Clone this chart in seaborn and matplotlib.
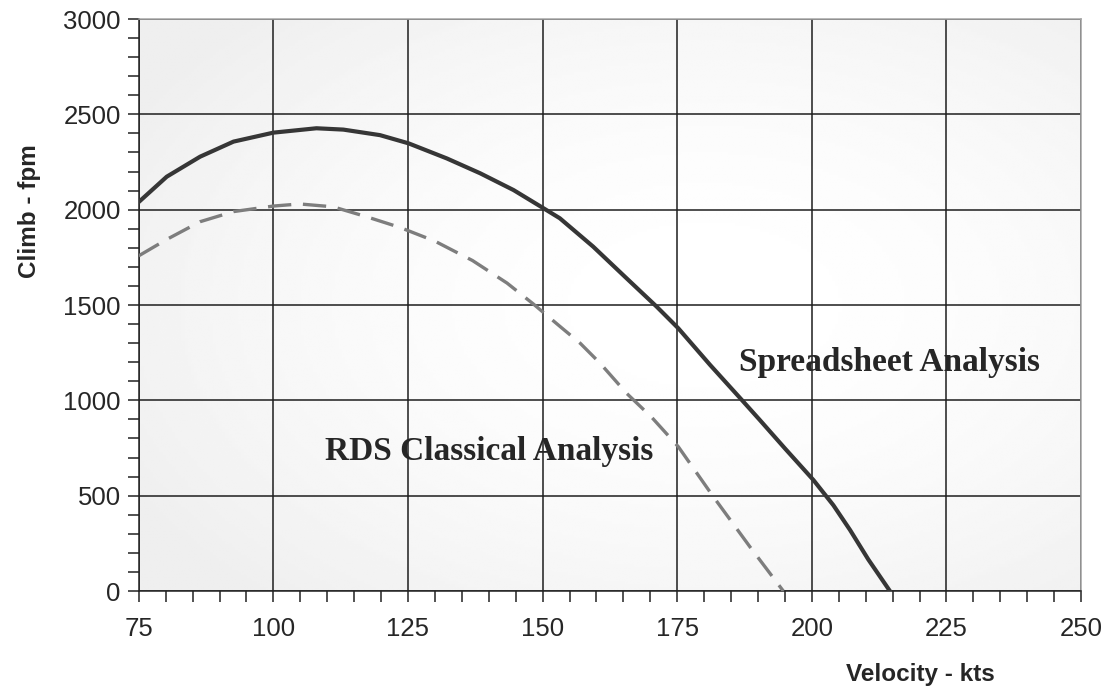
import numpy as np
import pandas as pd
import matplotlib
matplotlib.use('Agg')
import matplotlib.pyplot as plt
from matplotlib.ticker import MultipleLocator
import seaborn as sns

# values
spread_kts = [75, 80.2, 86.4, 92.6, 100, 108, 113, 119.8, 125.1, 132.2, 138.4, 144.6, 150.2, 153.2,
              159.4, 165.6, 171.2, 175.2, 181.1, 187, 190.4, 195, 200.3, 204, 207.1, 210.5, 214.5]
spread_fpm = [2040, 2173, 2278, 2357, 2404, 2427, 2420, 2391, 2348, 2269, 2191, 2103, 2007, 1955,
              1806, 1640, 1491, 1378, 1186, 1002, 895, 748, 582, 450, 320, 165, 0]

rds_kts = [75, 80.2, 86.4, 92.6, 100, 104.9, 111.1, 117.3, 123.5, 130, 137, 143.4, 148.3, 153.3,
           157, 160.7, 165.6, 170.3, 175.2, 181.7, 188.5, 194.7]
rds_fpm = [1758, 1844, 1937, 1990, 2019, 2030, 2015, 1963, 1907, 1835, 1733, 1615, 1505, 1386,
           1299, 1194, 1037, 910, 757, 495, 232, 0]

label_spread = 'Spreadsheet Analysis'
label_rds = 'RDS Classical Analysis'

spread = pd.DataFrame({'kts': spread_kts, 'fpm': spread_fpm})
rds = pd.DataFrame({'kts': rds_kts, 'fpm': rds_fpm})

sns.set_style('white')
plt.rcParams['font.family'] = ['Liberation Sans', 'DejaVu Sans']

fig = plt.figure(figsize=(11.09, 6.94), dpi=100)
ax = fig.add_axes([0.1251, 0.1484, 0.8497, 0.8242])

# soft radial gradient behind the plot
gx, gy = np.meshgrid(np.linspace(0, 1, 300), np.linspace(0, 1, 200))
r = np.sqrt(((gx - 0.6) / 0.7) ** 2 + ((gy - 0.5) / 0.7) ** 2)
shade = 1 - 0.065 * np.clip(r, 0, 1) ** 1.8
ax.imshow(shade, cmap='gray', vmin=0, vmax=1, extent=(0, 1, 0, 1), origin='lower',
          transform=ax.transAxes, aspect='auto', zorder=0, interpolation='bilinear')

sns.lineplot(data=spread, x='kts', y='fpm', ax=ax, color='#363636', lw=3.0, zorder=3, sort=False)
sns.lineplot(data=rds, x='kts', y='fpm', ax=ax, color='#7d7d7d', lw=2.4, zorder=3, sort=False,
             linestyle=(0, (7, 3.5)))

ax.set_xlim(75, 250)
ax.set_ylim(0, 3000)
ax.xaxis.set_major_locator(MultipleLocator(25))
ax.xaxis.set_minor_locator(MultipleLocator(5))
ax.yaxis.set_major_locator(MultipleLocator(500))
ax.yaxis.set_minor_locator(MultipleLocator(100))

ax.grid(True, which='major', color='#1e1e1e', lw=1.1, zorder=1)
ax.set_axisbelow(True)

ax.tick_params(axis='both', which='both', direction='out', length=8, width=1.1, color='#222222',
               labelsize=18.5, bottom=True, left=True, top=False, right=False)
ax.tick_params(axis='x', which='major', pad=11)
ax.tick_params(axis='y', which='major', pad=5)

for side in ['left', 'bottom']:
    ax.spines[side].set_color('#222222')
    ax.spines[side].set_linewidth(1.1)
for side in ['top', 'right']:
    ax.spines[side].set_color('#a5a5a5')
    ax.spines[side].set_linewidth(1.1)

ax.set_xlabel('Velocity - kts', fontsize=17.5, fontweight='bold')
ax.set_ylabel('Climb - fpm', fontsize=17.5, fontweight='bold')
ax.xaxis.set_label_coords(0.83, -0.125)
ax.yaxis.set_label_coords(-0.104, 0.665)

ax.text(214.5, 1196, label_spread, fontsize=24, fontweight='bold', family='Liberation Serif',
        ha='center', va='center', zorder=4)
ax.text(140.1, 730, label_rds, fontsize=24, fontweight='bold', family='Liberation Serif',
        ha='center', va='center', zorder=4)

fig.savefig('out.png', dpi=100)
